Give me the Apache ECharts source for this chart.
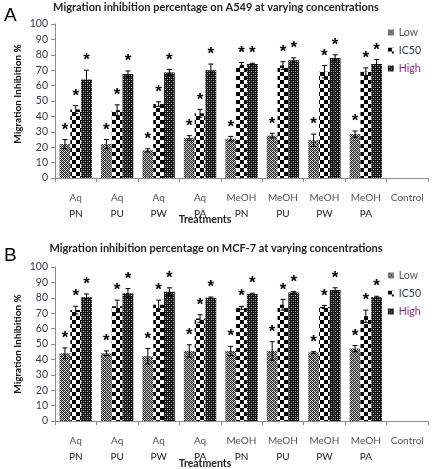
<!DOCTYPE html>
<html><head><meta charset="utf-8">
<script src="https://cdn.jsdelivr.net/npm/echarts@6/dist/echarts.min.js"></script>
<style>html,body{margin:0;padding:0;background:#fff}#c{width:432px;height:469px}</style>
</head><body><div id="c"></div>
<script>
const categories = ['Aq\nPN','Aq\nPU','Aq\nPW','Aq\nPA','MeOH\nPN','MeOH\nPU','MeOH\nPW','MeOH\nPA','Control'];
const seriesNames = ['Low','IC50','High'];
const yTicks = [0,10,20,30,40,50,60,70,80,90,100];

const lowA  = [22, 22, 18, 26, 25.5, 27.5, 24.5, 28.5, 0];
const ic50A = [44.5, 44, 48, 42, 73.5, 73, 69, 69, 0];
const highA = [64, 67.5, 68.5, 70, 74, 76.5, 78, 74, 0];
const errLowA  = [3, 3, 1, 1.5, 1.5, 1.5, 4, 2, 0];
const errIc50A = [2.5, 3.5, 1.5, 2.5, 1.5, 2.5, 4, 2.5, 0];
const errHighA = [6, 2, 2, 4, 0.5, 1.5, 2, 3, 0];

const lowB  = [44, 44, 42, 45.5, 45.5, 45.5, 44.5, 47, 0];
const ic50B = [72, 74.5, 75.5, 66.5, 73.5, 75.5, 74, 68, 0];
const highB = [80.5, 83, 84, 80, 82.5, 83.5, 85, 80.5, 0];
const errLowB  = [3.5, 1.5, 5, 4, 3, 6, 0.5, 2, 0];
const errIc50B = [2.5, 4, 3, 2.5, 1, 3.5, 1, 4, 0];
const errHighB = [2, 3, 2.5, 0.5, 0.5, 0.5, 1.5, 0.5, 0];

function pat(kind){
  const c = document.createElement('canvas');
  const ctx = c.getContext('2d');
  if(kind==='low'){
    c.width=4;c.height=4;
    ctx.fillStyle='#d8d8d8';ctx.fillRect(0,0,4,4);
    ctx.fillStyle='#2a2a2a';
    ctx.fillRect(0,0,1,1);ctx.fillRect(2,0,1,1);ctx.fillRect(1,1,1,1);ctx.fillRect(3,1,1,1);
    ctx.fillRect(0,2,1,1);ctx.fillRect(2,2,1,1);ctx.fillRect(1,3,1,1);ctx.fillRect(3,3,1,1);
    ctx.fillStyle='#777';ctx.fillRect(1,0,1,1);ctx.fillRect(3,2,1,1);
  } else if(kind==='ic50'){
    c.width=8;c.height=8;
    ctx.fillStyle='#fff';ctx.fillRect(0,0,8,8);
    ctx.fillStyle='#000';ctx.fillRect(0,0,4,4);ctx.fillRect(4,4,4,4);
  } else {
    c.width=4;c.height=4;
    ctx.fillStyle='#111';ctx.fillRect(0,0,4,4);
    ctx.fillStyle='#bbb';ctx.fillRect(1,1,1,1);ctx.fillRect(3,3,1,1);
    ctx.fillStyle='#666';ctx.fillRect(3,1,1,1);ctx.fillRect(1,3,1,1);
  }
  return {image:c, repeat:'repeat'};
}
const pats = [pat('low'), pat('ic50'), pat('high')];
const legendColors = ['#555', '#2e3a4e', '#8a2b8a'];

const FONT = 'Lato, "Open Sans", sans-serif';
const BARW = 0.26;

const panels = [
  {top:24, vals:[lowA,ic50A,highA], errs:[errLowA,errIc50A,errHighA], title:'Migration inhibition percentage on A549 at varying concentrations', letter:'A', titleY:8, letterY:6, legendTop:22, ylabY:94, treatY:220},
  {top:267, vals:[lowB,ic50B,highB], errs:[errLowB,errIc50B,errHighB], title:'Migration inhibition percentage on MCF-7 at varying concentrations', letter:'B', titleY:249, letterY:246, legendTop:265, ylabY:344, treatY:464}
];
const GH = 154;

const grid=[], xAxis=[], yAxis=[], series=[], legend=[], graphic=[];
panels.forEach((p,pi)=>{
  grid.push({left:55, right:4, top:p.top, height:GH});
  xAxis.push({type:'category', gridIndex:pi, data:categories,
    axisLine:{lineStyle:{color:'#8c8c8c'}},
    axisTick:{show:true, length:4, lineStyle:{color:'#8c8c8c'}},
    axisLabel:{interval:0, margin:12, fontFamily:FONT, fontSize:10, lineHeight:16,
      formatter:v=>{const s=v.split('\n');return '{a|'+s[0]+'}'+(s[1]?'\n{b|'+s[1]+'}':'');},
      rich:{a:{color:'#5a5060',fontFamily:FONT,fontSize:10,lineHeight:16},b:{color:'#222',fontFamily:FONT,fontSize:10,lineHeight:16}}}
  });
  yAxis.push({type:'value', gridIndex:pi, min:0, max:100, interval:10,
    axisLine:{show:true, lineStyle:{color:'#8c8c8c'}},
    axisTick:{show:true, length:4, lineStyle:{color:'#8c8c8c'}},
    splitLine:{show:false},
    axisLabel:{margin:7, fontFamily:FONT, fontSize:10.5, color:'#3c3446',
      formatter:v=>yTicks.includes(v)?String(v):''}
  });
  seriesNames.forEach((n,si)=>{
    series.push({type:'bar', name:n, xAxisIndex:pi, yAxisIndex:pi, data:p.vals[si],
      barWidth:(BARW*100)+'%', barGap:'0%', itemStyle:{color:pats[si]}, silent:true});
  });
  seriesNames.forEach((n,si)=>{
    const d = p.vals[si].map((v,i)=>[i, v, p.errs[si][i]]);
    series.push({type:'custom', xAxisIndex:pi, yAxisIndex:pi, data:d, z:5, silent:true,
      renderItem:(params, api)=>{
        const i=api.value(0), v=api.value(1), e=api.value(2);
        if(!(v>0)) return {type:'group', children:[]};
        const bw = api.size([1,0])[0];
        const off = (si-1)*BARW*bw;
        const ctr = api.coord([i, v]);
        const x = ctr[0]+off;
        const yt = api.coord([i, v+e])[1];
        const yb = api.coord([i, v-e])[1];
        const cap = 2.5;
        const ls = {stroke:'#000', lineWidth:1};
        return {type:'group', children:[
          {type:'line', shape:{x1:x,y1:yt,x2:x,y2:yb}, style:ls},
          {type:'line', shape:{x1:x-cap,y1:yt,x2:x+cap,y2:yt}, style:ls},
          {type:'line', shape:{x1:x-cap,y1:yb,x2:x+cap,y2:yb}, style:ls},
          {type:'text', x:x, y:yt-1, style:{text:'*', fill:'#000', font:'bold 17px "Liberation Sans", sans-serif', textAlign:'center', textVerticalAlign:'bottom'}}
        ]};
      }
    });
  });
  legend.push({data:seriesNames.map((n,si)=>({name:n, icon:'rect', textStyle:{color:legendColors[si]}})),
    orient:'vertical', right:6, top:p.legendTop, itemWidth:6, itemHeight:6, itemGap:7,
    textStyle:{fontFamily:FONT, fontSize:10.5, color:'#555'}
  });
  graphic.push({type:'text', left:'center', top:p.titleY-6, style:{text:p.title, font:'bold 11px '+FONT, fill:'#222'}});
  graphic.push({type:'text', left:4, top:p.letterY, style:{text:p.letter, font:'19px "Liberation Sans", sans-serif', fill:'#000'}});
  graphic.push({type:'text', x:18, y:p.ylabY, rotation:Math.PI/2, style:{text:'Migration Inhibition %', font:'bold 10px '+FONT, fill:'#111', textAlign:'center', textVerticalAlign:'middle'}});
  graphic.push({type:'text', x:205, y:p.treatY, style:{text:'Treatments', font:'bold 10.5px '+FONT, fill:'#222', textAlign:'center', textVerticalAlign:'middle'}});
});

const chart = echarts.init(document.getElementById('c'), null, {renderer:'canvas'});
chart.setOption({animation:false, backgroundColor:'#fff', grid, xAxis, yAxis, series, legend, graphic});
</script></body></html>
